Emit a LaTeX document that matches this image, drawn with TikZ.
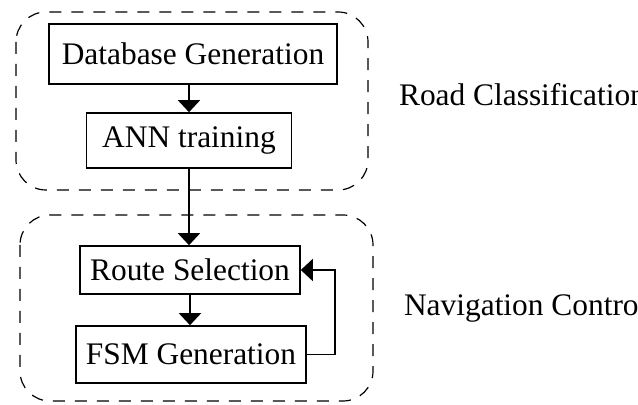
\documentclass[tikz,border=0pt]{standalone}
\usepackage{fontspec}
\setmainfont{Liberation Serif}
\usetikzlibrary{arrows.meta}
\tikzset{stage/.style={draw,thick,rectangle,inner sep=0pt,font=\fontsize{15.7}{18}\selectfont},
	group/.style={dashed,dash pattern=on 6pt off 5pt,line width=0.6pt,rounded corners=15pt},
	flow/.style={line width=0.9pt,-{Triangle[length=6pt,width=11pt]}},
	tag/.style={anchor=west,font=\fontsize{15.7}{18}\selectfont}}
\begin{document}
\begin{tikzpicture}[x=0.5pt,y=-0.5pt]
		\useasboundingbox (0,0) rectangle (638,405);
		\begin{scope}
			\node[stage,minimum width=144pt,minimum height=30pt] (db) at (193,54) {Database Generation};
			\node[stage,minimum width=102.5pt,minimum height=27.5pt] (ann) at (189,140.5) {ANN training};
			\node[stage,minimum width=110pt,minimum height=24pt] (route) at (190,270) {Route Selection};
			\node[stage,minimum width=115pt,minimum height=28.5pt] (fsm) at (191,354.5) {FSM Generation};
		\end{scope}
		\draw[group] (16,12) rectangle (368,190);
		\draw[group] (20,215) rectangle (373,401);
		\node[tag] (road) at (392,95) {Road Classification};
		\node[tag] (nav) at (397,308) {Navigation Control};
		\draw[flow] (ann.north |- db.south) -- (ann.north);
		\draw[flow] (ann.south) -- (ann.south |- route.north);
		\draw[flow] (route.south) -- (route.south |- fsm.north);
		\draw[flow] (fsm.east) -- ++(28,0) |- (route.east);
	\end{tikzpicture}
\end{document}
